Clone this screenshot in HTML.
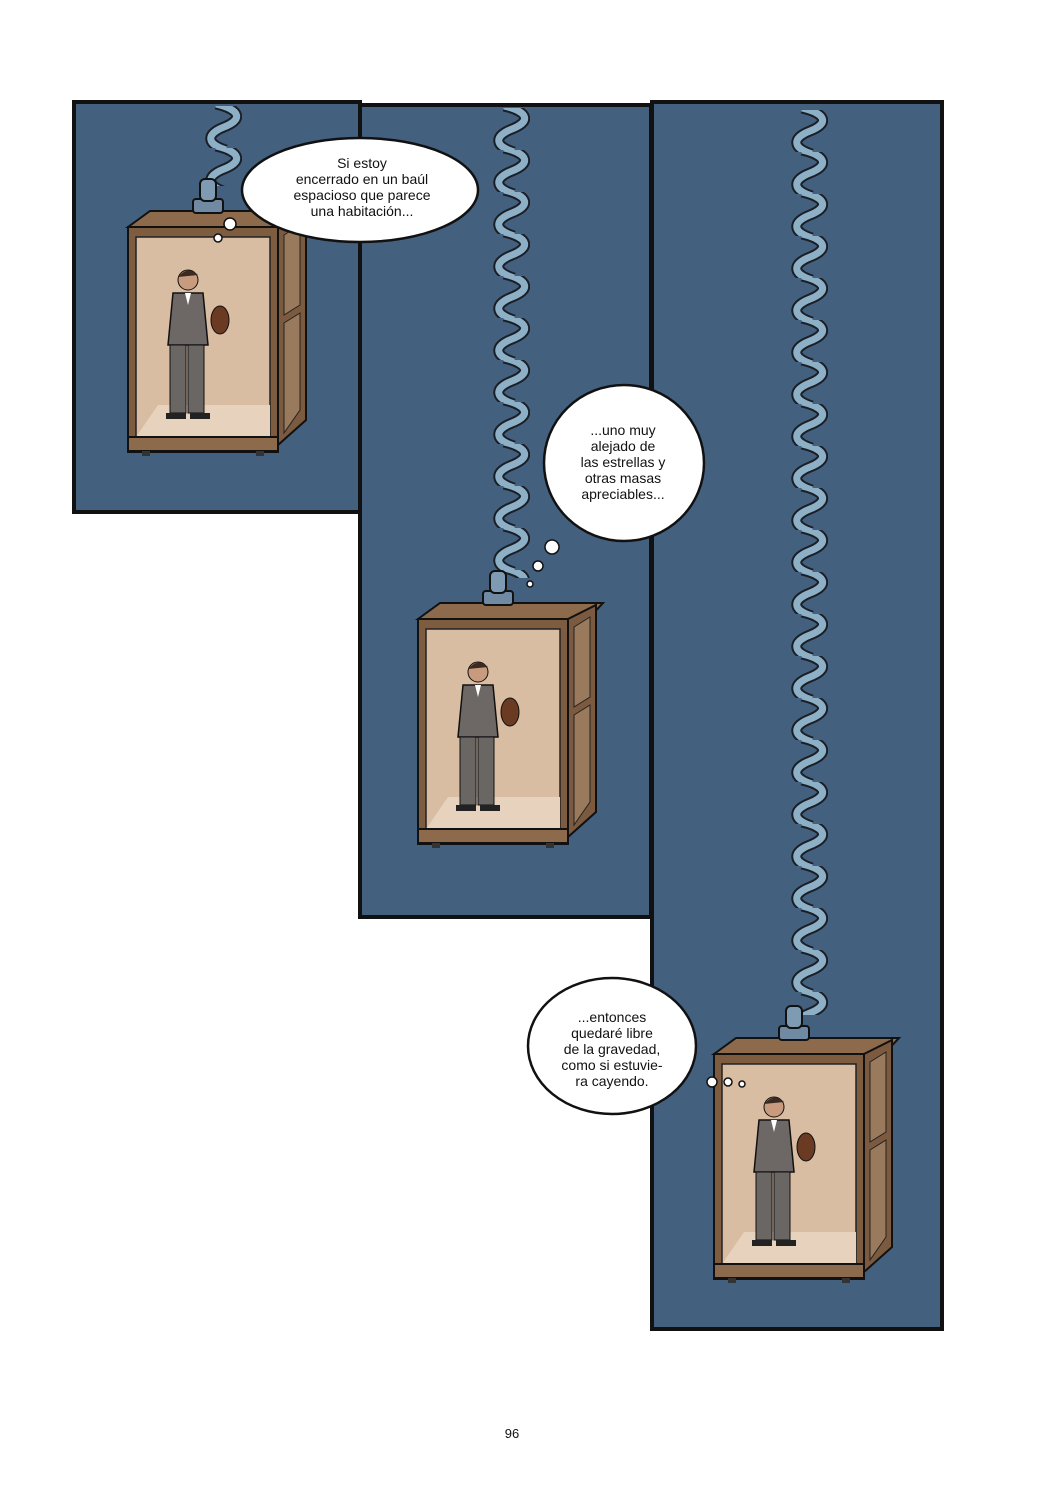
<!DOCTYPE html>
<html><head><meta charset="utf-8"><style>
html,body{margin:0;padding:0;background:#fff;}
svg{display:block}
text{font-family:"Liberation Sans",sans-serif;font-size:14px;fill:#111;text-anchor:middle}
</style></head><body>
<svg width="1046" height="1500" viewBox="0 0 1046 1500" xmlns="http://www.w3.org/2000/svg">
<defs>
<g id="tile">
<path d="M14,-2 C40,4 40,14 22,21 C4,28 4,38 24,44" fill="none" stroke="#1a1f26" stroke-width="11"/>
<path d="M14,-2 C40,4 40,14 22,21 C4,28 4,38 24,44" fill="none" stroke="#8eb0c6" stroke-width="7"/>
</g>
<pattern id="spr1" width="40" height="42" patternUnits="userSpaceOnUse" x="202" y="106"><use href="#tile"/></pattern>
<pattern id="spr2" width="40" height="42" patternUnits="userSpaceOnUse" x="490" y="108"><use href="#tile"/></pattern>
<pattern id="spr3" width="40" height="42" patternUnits="userSpaceOnUse" x="788" y="110"><use href="#tile"/></pattern>
<g id="box">
<polygon points="0,22 22,6 185,6 170,22" fill="#8c6a4b" stroke="#111" stroke-width="2"/>
<polygon points="150,22 178,8 178,215 150,240" fill="#7b5a3f" stroke="#111" stroke-width="2"/>
<polygon points="156,30 172,20 172,100 156,110" fill="#9a7a5c" stroke="#222" stroke-width="1"/>
<polygon points="156,118 172,108 172,205 156,228" fill="#9a7a5c" stroke="#222" stroke-width="1"/>
<rect x="0" y="22" width="150" height="225" fill="#7d5c40" stroke="#111" stroke-width="2"/>
<rect x="8" y="32" width="134" height="200" fill="#d8bda2" stroke="#222" stroke-width="1.5"/>
<polygon points="8,232 30,200 142,200 142,232" fill="#e6d2bd"/>
<rect x="0" y="232" width="150" height="14" fill="#8c6a4b" stroke="#111" stroke-width="2"/>
<rect x="14" y="246" width="8" height="5" fill="#333"/><rect x="128" y="246" width="8" height="5" fill="#333"/>
<rect x="65" y="-6" width="30" height="14" rx="3" fill="#6f8aa2" stroke="#111" stroke-width="2"/>
<rect x="72" y="-26" width="16" height="22" rx="5" fill="#7f9bb3" stroke="#111" stroke-width="2"/>
<g>
<circle cx="60" cy="75" r="10" fill="#c89b7e" stroke="#111"/>
<path d="M50,72 Q60,60 70,70" fill="#3a2a22"/>
<polygon points="45,88 75,88 80,140 40,140" fill="#6d6866" stroke="#111" stroke-width="1.5"/>
<rect x="42" y="140" width="16" height="68" fill="#6a6664" stroke="#111"/>
<rect x="60" y="140" width="16" height="68" fill="#6a6664" stroke="#111"/>
<polygon points="57,88 63,88 60,100" fill="#fff"/>
<ellipse cx="92" cy="115" rx="9" ry="14" fill="#6b3a22" stroke="#111"/>
<rect x="38" y="208" width="20" height="6" fill="#222"/><rect x="62" y="208" width="20" height="6" fill="#222"/>
</g>
</g>
</defs>

<rect x="74" y="102" width="286" height="410" fill="#44607f" stroke="#111" stroke-width="4"/>
<rect x="360" y="105" width="291" height="812" fill="#44607f" stroke="#111" stroke-width="4"/>
<rect x="652" y="102" width="290" height="1227" fill="#44607f" stroke="#111" stroke-width="4"/>

<rect x="202" y="106" width="40" height="80" fill="url(#spr1)"/>
<rect x="490" y="108" width="40" height="470" fill="url(#spr2)"/>
<rect x="788" y="110" width="40" height="905" fill="url(#spr3)"/>

<use href="#box" x="128" y="205"/>
<use href="#box" x="418" y="597"/>
<use href="#box" x="714" y="1032"/>

<ellipse cx="360" cy="190" rx="118" ry="52" fill="#fff" stroke="#111" stroke-width="2.5"/>
<circle cx="230" cy="224" r="6" fill="#fff" stroke="#111" stroke-width="1.5"/>
<circle cx="218" cy="238" r="4" fill="#fff" stroke="#111" stroke-width="1.5"/>
<text x="362" y="168">Si estoy</text>
<text x="362" y="184">encerrado en un baúl</text>
<text x="362" y="200">espacioso que parece</text>
<text x="362" y="216">una habitación...</text>

<ellipse cx="624" cy="463" rx="80" ry="78" fill="#fff" stroke="#111" stroke-width="2.5"/>
<circle cx="552" cy="547" r="7" fill="#fff" stroke="#111" stroke-width="1.5"/>
<circle cx="538" cy="566" r="5" fill="#fff" stroke="#111" stroke-width="1.5"/>
<circle cx="530" cy="584" r="3" fill="#fff" stroke="#111" stroke-width="1.5"/>
<text x="623" y="435">...uno muy</text>
<text x="623" y="451">alejado de</text>
<text x="623" y="467">las estrellas y</text>
<text x="623" y="483">otras masas</text>
<text x="623" y="499">apreciables...</text>

<ellipse cx="612" cy="1046" rx="84" ry="68" fill="#fff" stroke="#111" stroke-width="2.5"/>
<circle cx="712" cy="1082" r="5" fill="#fff" stroke="#111" stroke-width="1.5"/>
<circle cx="728" cy="1082" r="4" fill="#fff" stroke="#111" stroke-width="1.5"/>
<circle cx="742" cy="1084" r="3" fill="#fff" stroke="#111" stroke-width="1.5"/>
<text x="612" y="1022">...entonces</text>
<text x="612" y="1038">quedaré libre</text>
<text x="612" y="1054">de la gravedad,</text>
<text x="612" y="1070">como si estuvie-</text>
<text x="612" y="1086">ra cayendo.</text>

<text x="512" y="1438" style="font-size:13px">96</text>
</svg>
</body></html>
